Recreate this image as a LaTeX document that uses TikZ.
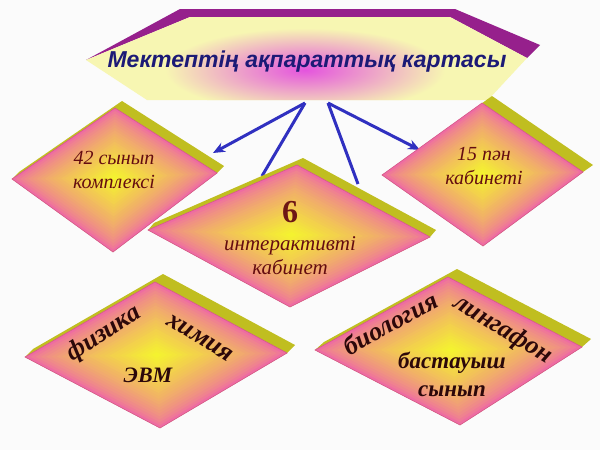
\documentclass[tikz,border=0pt]{standalone}
\usepackage{fontspec}
\setmainfont{Liberation Serif}
\newfontfamily\titlefont{Liberation Sans}
\usetikzlibrary{calc,arrows.meta}

\definecolor{rosy}{RGB}{238,108,162}
\definecolor{rosyedge}{RGB}{214,88,140}
\definecolor{sunny}{RGB}{244,242,48}
\definecolor{bandolive}{RGB}{192,190,32}
\definecolor{bandpurple}{RGB}{150,32,140}
\definecolor{cream}{RGB}{247,246,178}
\definecolor{glow}{RGB}{228,84,222}
\definecolor{arrowblue}{RGB}{48,48,192}
\definecolor{titleblue}{RGB}{28,26,118}
\definecolor{textred}{RGB}{100,12,16}
\definecolor{textdark}{RGB}{44,8,10}

\begin{document}
\begin{tikzpicture}[x=1pt,y=-1pt,
    branch/.style={arrowblue, line width=3pt},
    pointer/.style={branch, -{Stealth[length=12pt,width=10pt]}},
    cardtext/.style={font=\itshape\fontsize{20}{24}\selectfont, textred, align=center},
    subject/.style={font=\bfseries\itshape\fontsize{26}{28}\selectfont, textdark}]
      \useasboundingbox (0,0) rectangle (600,450);
      \fill[white!97!gray] (0,0) rectangle (600,450);

      % Bandeau
      \fill[bandpurple] (86,60) -- (180,9) -- (455,9) -- (540,45) -- (527,58) -- (450,17) -- (190,17) -- cycle;
      \fill[cream] (86,60) -- (190,17) -- (450,17) -- (527,58) -- (488,100) -- (147,100) -- cycle;
      \begin{scope}
        \clip (86,60) -- (190,17) -- (450,17) -- (527,58) -- (488,100) -- (147,100) -- cycle;
        \shade[inner color=glow, outer color=cream] (305,70) ellipse (140 and 42);
      \end{scope}
      \node[font=\titlefont\bfseries\itshape\fontsize{23}{26}\selectfont, titleblue] (title) at (307,62) {Мектептің ақпараттық картасы};

      % Coins des losanges
      \coordinate (komplL) at (12,179);  \coordinate (komplT) at (115,108);
      \coordinate (komplR) at (217,173); \coordinate (komplB) at (113,252);
      \coordinate (interL) at (148,230); \coordinate (interT) at (297,165);
      \coordinate (interR) at (430,237); \coordinate (interB) at (290,307);
      \coordinate (panL) at (382,175);   \coordinate (panT) at (482,103);
      \coordinate (panR) at (583,172);   \coordinate (panB) at (483,246);
      \coordinate (physL) at (25,357);   \coordinate (physT) at (155,282);
      \coordinate (physR) at (287,353);  \coordinate (physB) at (160,428);
      \coordinate (bioL) at (315,350);   \coordinate (bioT) at (448,277);
      \coordinate (bioR) at (582,347);   \coordinate (bioB) at (460,425);

      % Fleches
      \coordinate (srcL) at (305,103);
      \coordinate (srcR) at (328,103);
      \coordinate (toKompl) at (213,153);
      \coordinate (toInterL) at (262,176);
      \coordinate (toInterR) at (358,184);
      \coordinate (toPan) at (420,150);
      \draw[pointer] (srcL) -- (toKompl);
      \draw[branch] (srcL) -- (toInterL);
      \draw[branch] (srcR) -- (toInterR);
      \draw[pointer] (srcR) -- (toPan);

      % Losanges
      \foreach \n/\dx/\dy in {kompl/7/-7, inter/6/-7, pan/10/-7, phys/8/-8, bio/9/-8} {
        \fill[bandolive] (\n L) -- ($(\n L)+(\dx,\dy)$) -- ($(\n T)+(\dx,\dy)$) -- ($(\n R)+(\dx,\dy)$) -- (\n R) -- (\n B) -- cycle;
        \coordinate (\n C) at ($0.25*(\n L)+0.25*(\n T)+0.25*(\n R)+0.25*(\n B)$);
        \foreach \i in {0,...,24} {
          \pgfmathsetmacro\s{1-\i/25}
          \pgfmathtruncatemacro\p{100*(\i/24)^0.7}
          \fill[sunny!\p!rosy] ($(\n C)!\s!(\n L)$) -- ($(\n C)!\s!(\n T)$) -- ($(\n C)!\s!(\n R)$) -- ($(\n C)!\s!(\n B)$) -- cycle;
        }
        \draw[rosyedge, line width=0.6pt] (\n L) -- (\n T) -- (\n R) -- (\n B) -- cycle;
      }

      % Textes
      \node[cardtext] (komplText) at (114,170) {42 сынып\\комплексі};
      \node[cardtext] (panText) at (484,166) {15 пән\\кабинеті};
      \node[font=\bfseries\fontsize{32}{34}\selectfont, textred!90!brown] (six) at (290,212) {6};
      \node[cardtext, font=\itshape\fontsize{21}{24}\selectfont] (interText) at (290,256) {интерактивті\\кабинет};
      \node[subject, rotate=33] (physics) at (104,334) {физика};
      \node[subject, rotate=-31] (chem) at (200,338) {химия};
      \node[subject, font=\bfseries\itshape\fontsize{22}{24}\selectfont] (evm) at (148,375) {ЭВМ};
      \node[subject, rotate=29] (biology) at (390,323) {биология};
      \node[subject, rotate=-31] (lingaphone) at (503,330) {лингафон};
      \node[subject, align=center, font=\bfseries\itshape\fontsize{23}{28}\selectfont] (primary) at (452,374) {бастауыш\\сынып};
\end{tikzpicture}
\end{document}
